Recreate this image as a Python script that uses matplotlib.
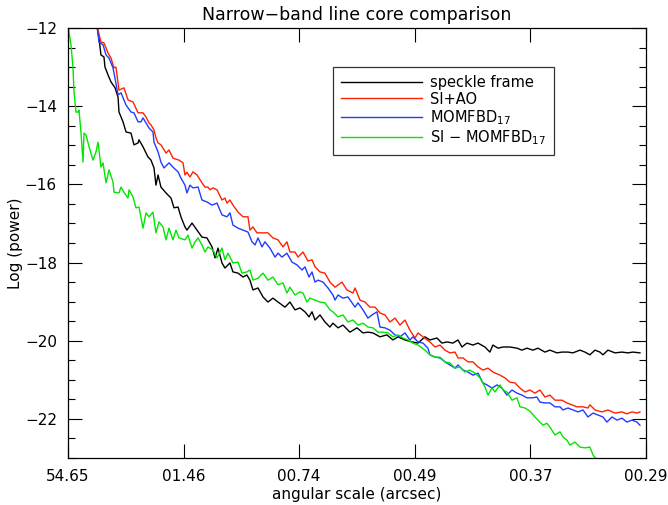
import matplotlib
matplotlib.use('Agg')
import matplotlib.pyplot as plt

# eje x en unidades de frecuencia (0..5 entre marcas), y = log(power)
tick_pos = [0, 1, 2, 3, 4, 5]
tick_labels = ['54.65', '01.46', '00.74', '00.49', '00.37', '00.29']

speckle_x = [0.251, 0.268, 0.285, 0.311, 0.320, 0.346, 0.372, 0.407, 0.433, 0.441, 0.476, 0.502, 0.545,
             0.571, 0.606, 0.614, 0.649, 0.692, 0.718, 0.744, 0.761, 0.779, 0.804, 0.848, 0.891, 0.917,
             0.952, 0.977, 1.012, 1.029, 1.073, 1.116, 1.159, 1.202, 1.246, 1.272, 1.298, 1.332, 1.358,
             1.401, 1.427, 1.471, 1.514, 1.548, 1.574, 1.600, 1.644, 1.687, 1.730, 1.773, 1.817, 1.877,
             1.920, 1.964, 2.007, 2.050, 2.085, 2.111, 2.137, 2.180, 2.223, 2.266, 2.292, 2.336, 2.379,
             2.439, 2.500, 2.552, 2.595, 2.638, 2.699, 2.759, 2.811, 2.855, 2.915, 2.976, 3.028, 3.088,
             3.131, 3.192, 3.235, 3.278, 3.330, 3.374, 3.408, 3.451, 3.503, 3.547, 3.607, 3.650, 3.676,
             3.720, 3.763, 3.823, 3.884, 3.927, 3.970, 4.022, 4.066, 4.126, 4.169, 4.230, 4.273, 4.325,
             4.368, 4.429, 4.472, 4.515, 4.559, 4.602, 4.628, 4.671, 4.732, 4.792, 4.844, 4.887, 4.948]
speckle_y = [-11.95, -12.26, -12.69, -12.74, -13.00, -13.20, -13.38, -13.53, -13.77, -14.15, -14.40, -14.66,
             -14.69, -14.99, -14.94, -14.86, -15.04, -15.30, -15.38, -15.58, -16.02, -15.76, -16.07, -16.22,
             -16.35, -16.60, -16.58, -16.83, -17.09, -17.17, -16.99, -17.17, -17.35, -17.37, -17.60, -17.88,
             -17.63, -18.01, -18.14, -18.01, -18.24, -18.27, -18.37, -18.32, -18.45, -18.70, -18.65, -18.88,
             -19.01, -18.91, -19.01, -19.14, -19.01, -19.21, -19.16, -19.26, -19.39, -19.26, -19.47, -19.34,
             -19.52, -19.65, -19.55, -19.67, -19.60, -19.78, -19.67, -19.80, -19.78, -19.80, -19.90, -19.85,
             -19.98, -19.90, -19.98, -20.03, -20.06, -19.90, -19.98, -19.93, -20.06, -20.03, -20.06, -19.98,
             -20.16, -20.06, -20.11, -20.06, -20.16, -20.29, -20.11, -20.19, -20.16, -20.16, -20.19, -20.24,
             -20.19, -20.24, -20.19, -20.29, -20.24, -20.31, -20.29, -20.29, -20.31, -20.24, -20.29, -20.36,
             -20.24, -20.29, -20.36, -20.24, -20.31, -20.29, -20.31, -20.29, -20.31]

siao_x = [0.251, 0.285, 0.311, 0.346, 0.372, 0.398, 0.415, 0.441, 0.484, 0.519, 0.562, 0.606, 0.649, 0.675,
          0.701, 0.718, 0.744, 0.761, 0.779, 0.804, 0.848, 0.874, 0.908, 0.960, 0.995, 1.012, 1.029, 1.055,
          1.081, 1.116, 1.159, 1.185, 1.211, 1.228, 1.254, 1.289, 1.332, 1.358, 1.375, 1.401, 1.427, 1.471,
          1.514, 1.557, 1.574, 1.600, 1.635, 1.678, 1.730, 1.773, 1.817, 1.860, 1.894, 1.920, 1.964, 1.990,
          2.033, 2.076, 2.111, 2.137, 2.180, 2.223, 2.266, 2.310, 2.370, 2.413, 2.465, 2.483, 2.526, 2.569,
          2.612, 2.656, 2.699, 2.742, 2.785, 2.829, 2.872, 2.915, 2.958, 3.002, 3.028, 3.071, 3.131, 3.175,
          3.218, 3.261, 3.304, 3.348, 3.374, 3.417, 3.460, 3.503, 3.547, 3.590, 3.633, 3.676, 3.737, 3.780,
          3.823, 3.867, 3.910, 3.953, 3.996, 4.040, 4.083, 4.126, 4.169, 4.213, 4.273, 4.316, 4.360, 4.403,
          4.455, 4.498, 4.515, 4.559, 4.619, 4.671, 4.732, 4.792, 4.835, 4.879, 4.922, 4.948]
siao_y = [-11.95, -12.36, -12.38, -12.64, -12.77, -13.02, -13.00, -13.59, -13.53, -13.84, -13.89, -14.17,
          -14.17, -14.28, -14.43, -14.48, -14.61, -14.81, -14.94, -14.99, -15.20, -15.12, -15.33, -15.38,
          -15.45, -15.76, -15.69, -15.81, -15.68, -15.76, -15.96, -16.07, -16.07, -16.14, -16.09, -16.14,
          -16.40, -16.35, -16.48, -16.40, -16.53, -16.71, -16.83, -16.83, -17.17, -17.09, -17.24, -17.24,
          -17.24, -17.37, -17.42, -17.60, -17.47, -17.73, -17.73, -17.86, -17.73, -17.96, -17.93, -18.11,
          -18.24, -18.27, -18.50, -18.63, -18.50, -18.70, -18.78, -18.65, -18.96, -19.01, -19.14, -19.14,
          -19.29, -19.34, -19.52, -19.42, -19.60, -19.47, -19.73, -19.93, -19.80, -19.90, -20.03, -20.16,
          -20.11, -20.24, -20.31, -20.29, -20.44, -20.44, -20.54, -20.54, -20.67, -20.75, -20.70, -20.80,
          -20.88, -20.95, -21.06, -21.08, -21.21, -21.31, -21.26, -21.34, -21.26, -21.44, -21.39, -21.52,
          -21.52, -21.59, -21.64, -21.69, -21.69, -21.72, -21.64, -21.77, -21.82, -21.77, -21.85, -21.82,
          -21.87, -21.82, -21.85, -21.82]

momfbd_x = [0.251, 0.268, 0.303, 0.329, 0.355, 0.389, 0.398, 0.433, 0.459, 0.502, 0.545, 0.571, 0.606,
            0.631, 0.649, 0.675, 0.701, 0.735, 0.744, 0.779, 0.804, 0.830, 0.874, 0.908, 0.952, 0.977,
            1.012, 1.029, 1.055, 1.081, 1.125, 1.159, 1.202, 1.246, 1.289, 1.332, 1.375, 1.401, 1.427,
            1.471, 1.514, 1.557, 1.592, 1.618, 1.644, 1.678, 1.704, 1.747, 1.791, 1.817, 1.851, 1.894,
            1.938, 1.981, 2.024, 2.050, 2.085, 2.111, 2.137, 2.163, 2.206, 2.249, 2.292, 2.310, 2.336,
            2.379, 2.422, 2.457, 2.483, 2.509, 2.552, 2.595, 2.630, 2.673, 2.699, 2.742, 2.785, 2.829,
            2.872, 2.915, 2.958, 2.984, 3.028, 3.071, 3.114, 3.131, 3.175, 3.218, 3.261, 3.304, 3.348,
            3.374, 3.417, 3.460, 3.503, 3.547, 3.590, 3.625, 3.668, 3.711, 3.754, 3.797, 3.841, 3.884,
            3.927, 3.970, 4.014, 4.057, 4.083, 4.126, 4.169, 4.213, 4.256, 4.282, 4.325, 4.368, 4.412,
            4.455, 4.498, 4.542, 4.585, 4.628, 4.662, 4.706, 4.749, 4.792, 4.835, 4.879, 4.922, 4.948]
momfbd_y = [-11.95, -12.36, -12.43, -12.69, -12.77, -13.02, -13.15, -13.71, -13.66, -13.97, -14.15, -14.17,
            -14.40, -14.40, -14.30, -14.43, -14.56, -14.66, -14.92, -15.17, -15.43, -15.58, -15.45, -15.56,
            -15.68, -15.84, -16.02, -16.22, -16.02, -16.09, -16.07, -16.40, -16.45, -16.53, -16.48, -16.78,
            -16.83, -16.73, -17.04, -17.12, -17.17, -17.22, -17.47, -17.55, -17.37, -17.60, -17.47, -17.63,
            -17.86, -17.76, -17.86, -17.76, -17.99, -18.06, -18.19, -18.11, -18.37, -18.24, -18.50, -18.45,
            -18.50, -18.65, -18.83, -18.96, -18.83, -18.91, -18.88, -19.03, -19.14, -19.03, -19.21, -19.42,
            -19.34, -19.26, -19.65, -19.67, -19.73, -19.85, -19.90, -19.80, -19.98, -19.90, -20.03, -20.06,
            -20.19, -20.36, -20.42, -20.44, -20.54, -20.62, -20.70, -20.62, -20.75, -20.80, -20.88, -20.83,
            -21.08, -21.13, -21.21, -21.13, -21.21, -21.39, -21.26, -21.34, -21.39, -21.46, -21.46, -21.44,
            -21.57, -21.59, -21.59, -21.69, -21.69, -21.77, -21.72, -21.77, -21.82, -21.77, -21.95, -21.85,
            -21.90, -21.95, -22.08, -21.95, -22.03, -21.98, -22.08, -22.03, -22.08, -22.16]

diff_x = [0.000, 0.026, 0.043, 0.052, 0.069, 0.087, 0.095, 0.112, 0.130, 0.138, 0.156, 0.182, 0.216, 0.242,
          0.260, 0.285, 0.303, 0.329, 0.355, 0.389, 0.398, 0.441, 0.458, 0.484, 0.519, 0.528, 0.562, 0.588,
          0.614, 0.649, 0.675, 0.701, 0.735, 0.761, 0.787, 0.822, 0.848, 0.874, 0.908, 0.934, 0.960, 1.012,
          1.038, 1.073, 1.099, 1.125, 1.159, 1.185, 1.211, 1.254, 1.289, 1.332, 1.358, 1.384, 1.427, 1.471,
          1.505, 1.548, 1.574, 1.600, 1.644, 1.687, 1.730, 1.773, 1.817, 1.860, 1.894, 1.920, 1.964, 2.007,
          2.033, 2.067, 2.093, 2.137, 2.180, 2.223, 2.266, 2.292, 2.336, 2.379, 2.422, 2.465, 2.509, 2.552,
          2.595, 2.638, 2.682, 2.725, 2.768, 2.811, 2.855, 2.898, 2.941, 2.984, 3.028, 3.088, 3.131, 3.175,
          3.218, 3.261, 3.304, 3.348, 3.391, 3.434, 3.477, 3.521, 3.564, 3.607, 3.633, 3.668, 3.694, 3.737,
          3.763, 3.797, 3.841, 3.884, 3.910, 3.953, 3.996, 4.040, 4.066, 4.109, 4.143, 4.169, 4.213, 4.256,
          4.282, 4.316, 4.342, 4.386, 4.429, 4.472, 4.515, 4.542, 4.576]
diff_y = [-11.95, -12.43, -13.02, -13.64, -14.15, -14.15, -14.10, -14.66, -15.43, -14.69, -14.74, -15.04,
          -15.38, -15.17, -14.92, -15.56, -15.45, -15.96, -15.63, -15.94, -16.20, -16.22, -16.07, -16.20,
          -16.35, -16.14, -16.32, -16.60, -16.58, -17.12, -16.73, -16.83, -16.71, -17.24, -16.96, -17.09,
          -17.42, -17.12, -17.42, -17.17, -17.37, -17.42, -17.30, -17.63, -17.47, -17.37, -17.55, -17.73,
          -17.60, -17.68, -17.88, -17.63, -17.93, -17.76, -18.01, -17.99, -18.27, -18.24, -18.19, -18.45,
          -18.40, -18.27, -18.45, -18.37, -18.57, -18.52, -18.78, -18.63, -18.83, -18.75, -18.78, -19.01,
          -18.91, -18.96, -19.01, -19.03, -19.21, -19.26, -19.39, -19.34, -19.52, -19.47, -19.60, -19.55,
          -19.65, -19.67, -19.78, -19.78, -19.80, -19.90, -19.85, -19.93, -19.98, -20.06, -20.11, -20.24,
          -20.36, -20.42, -20.42, -20.54, -20.57, -20.70, -20.67, -20.80, -20.75, -20.83, -20.95, -21.18,
          -21.39, -21.21, -21.31, -21.13, -21.26, -21.31, -21.52, -21.46, -21.69, -21.72, -21.80, -21.95,
          -22.03, -22.16, -22.11, -22.21, -22.41, -22.33, -22.46, -22.54, -22.67, -22.59, -22.72, -22.74,
          -22.72, -22.92, -23.05]

fig = plt.figure(figsize=(6.68, 5.05), dpi=100)
ax = fig.add_axes([0.1018, 0.093, 0.8652, 0.8516])

lw = 1.0
ax.plot(speckle_x, speckle_y, color='black', lw=lw, label='speckle frame')
ax.plot(siao_x, siao_y, color='#ff2200', lw=lw, label='SI+AO')
ax.plot(momfbd_x, momfbd_y, color='#1f3cff', lw=lw, label='MOMFBD$_{17}$')
ax.plot(diff_x, diff_y, color='#00e600', lw=lw, label='SI $-$ MOMFBD$_{17}$')

ax.set_xlim(0, 5)
ax.set_ylim(-23, -12)
ax.set_xticks(tick_pos)
ax.set_xticklabels(tick_labels)
ax.set_yticks([-12, -14, -16, -18, -20, -22])
ax.set_yticks([-23 + 0.5 * i for i in range(23)], minor=True)
ax.tick_params(axis='both', which='major', direction='in', length=10, width=0.8,
               top=True, right=True, labelsize=11, pad=8)
ax.tick_params(axis='y', which='minor', direction='in', length=5, width=0.8, right=True)
ax.tick_params(axis='x', which='minor', bottom=False, top=False)
for s in ax.spines.values():
    s.set_linewidth(0.9)

ax.set_title('Narrow\u2212band line core comparison', fontsize=12.5, pad=6)
ax.set_xlabel('angular scale (arcsec)', fontsize=11, labelpad=2)
ax.set_ylabel('Log (power)', fontsize=11)
ax.yaxis.set_label_coords(-0.078, 0.5)

leg = ax.legend(loc='upper left', bbox_to_anchor=(0.458, 0.909), fontsize=10.5,
                frameon=True, fancybox=False, edgecolor='black', handlelength=5.6,
                handletextpad=0.5, borderpad=0.55, labelspacing=0.1, borderaxespad=0)
leg.get_frame().set_linewidth(0.9)

plt.savefig('out.png', dpi=100)
